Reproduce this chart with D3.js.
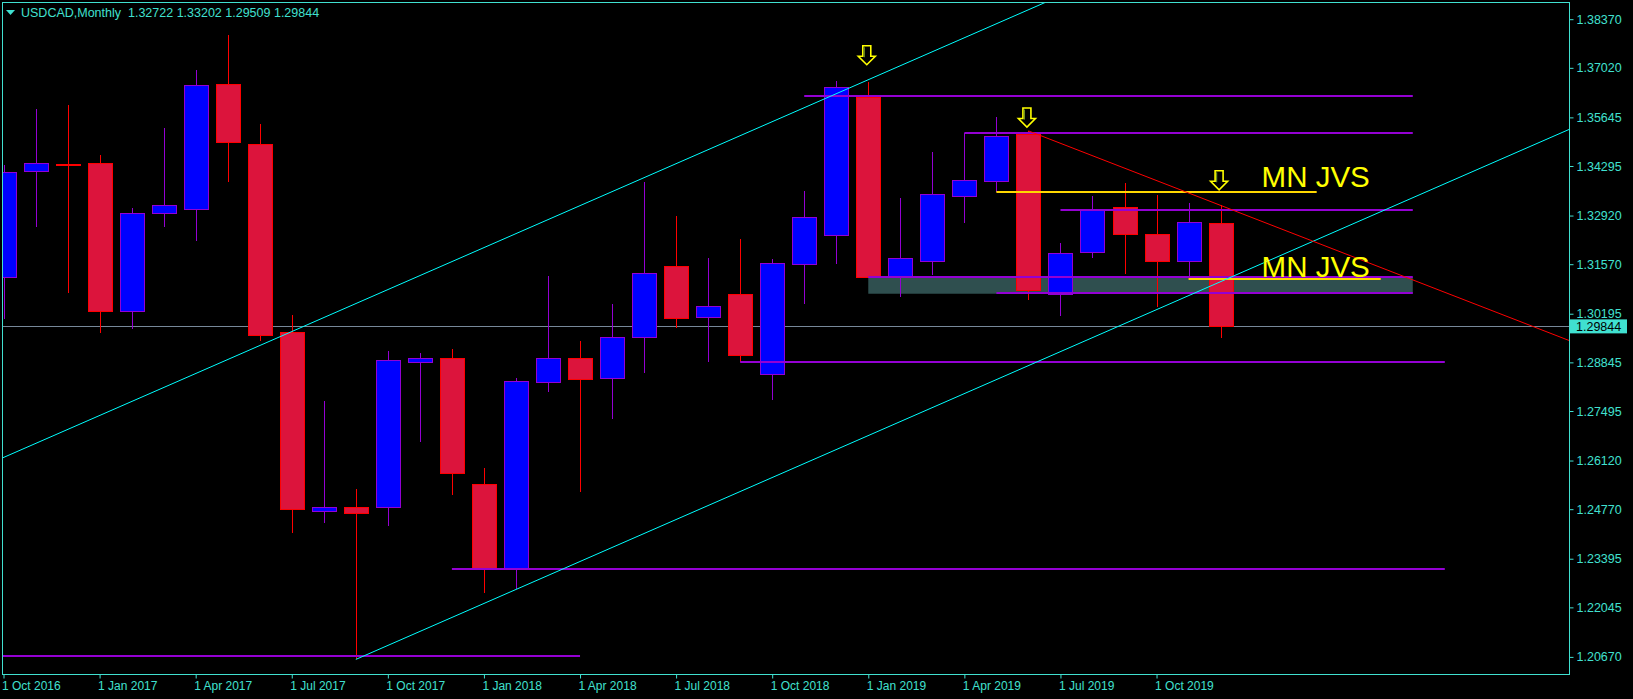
<!DOCTYPE html>
<html>
<head>
<meta charset="utf-8">
<script src="https://cdn.jsdelivr.net/npm/d3@7"></script>
<style>
  html, body { margin: 0; padding: 0; background: #000; }
  svg { display: block; }
</style>
</head>
<body>
<svg id="chart" width="1633" height="699"></svg>
<script>
// ---------- DATA ----------
const months = ["Oct 2016","Nov 2016","Dec 2016","Jan 2017","Feb 2017","Mar 2017","Apr 2017","May 2017","Jun 2017",
  "Jul 2017","Aug 2017","Sep 2017","Oct 2017","Nov 2017","Dec 2017","Jan 2018","Feb 2018","Mar 2018","Apr 2018",
  "May 2018","Jun 2018","Jul 2018","Aug 2018","Sep 2018","Oct 2018","Nov 2018","Dec 2018","Jan 2019","Feb 2019",
  "Mar 2019","Apr 2019","May 2019","Jun 2019","Jul 2019","Aug 2019","Sep 2019","Oct 2019","Nov 2019","Dec 2019"];
const opens  = [1.3121,1.3415,1.3435,1.3437,1.3026,1.3298,1.3309,1.3657,1.3490,
  1.2969,1.2473,1.2482,1.2484,1.2886,1.2896,1.2546,1.2314,1.2829,1.2896,
  1.2840,1.2954,1.3151,1.3010,1.3074,1.2851,1.3157,1.3237,1.3622,1.3121,
  1.3165,1.3345,1.3387,1.3518,1.3073,1.3190,1.3315,1.3240,1.3165,1.32722];
const highs  = [1.3432,1.3588,1.3599,1.3460,1.3313,1.3535,1.3696,1.3793,1.3546,
  1.3016,1.2777,1.2533,1.2916,1.2911,1.2922,1.2591,1.2840,1.3124,1.2944,
  1.3047,1.3385,1.3291,1.3174,1.3227,1.3171,1.3360,1.3666,1.3663,1.3341,
  1.3468,1.3521,1.3565,1.3527,1.3216,1.3346,1.3382,1.3349,1.3327,1.33202];
const lows   = [1.3004,1.3261,1.3078,1.2967,1.2978,1.3261,1.3222,1.3386,1.2945,
  1.2412,1.2440,1.2060,1.2430,1.2664,1.2515,1.2245,1.2256,1.2803,1.2526,
  1.2728,1.2856,1.2981,1.2886,1.2886,1.2781,1.3047,1.3158,1.3118,1.3067,
  1.3127,1.3272,1.3357,1.3058,1.3014,1.3175,1.3131,1.3039,1.3117,1.29509];
const closes = [1.3412,1.3437,1.3433,1.3028,1.3298,1.3321,1.3654,1.3497,1.2961,
  1.2478,1.2482,1.2467,1.2890,1.2896,1.2578,1.2314,1.2832,1.2896,1.2839,
  1.2954,1.3132,1.3009,1.3040,1.2906,1.3160,1.3287,1.3648,1.3122,1.3173,
  1.3351,1.3390,1.3512,1.3086,1.3187,1.3307,1.3240,1.3165,1.3273,1.29844];

const xTickIdx    = [0,3,6,9,12,15,18,21,24,27,30,33,36];
const xTickLabels = ["1 Oct 2016","1 Jan 2017","1 Apr 2017","1 Jul 2017","1 Oct 2017","1 Jan 2018",
  "1 Apr 2018","1 Jul 2018","1 Oct 2018","1 Jan 2019","1 Apr 2019","1 Jul 2019","1 Oct 2019"];
const priceTicks  = [1.38370,1.37020,1.35645,1.34295,1.32920,1.31570,1.30195,1.28845,1.27495,
  1.26120,1.24770,1.23395,1.22045,1.20670];

const headerText = "USDCAD,Monthly  1.32722 1.33202 1.29509 1.29844";
const lastPrice = 1.29844;

// trend lines: [index, price] anchors
const channelUpper = [[9, 1.2970], [27, 1.3669]];
const channelLower = [[11, 1.2060], [38, 1.31085]];
const redTrend     = [[32, 1.3527], [38, 1.33202]];

// horizontal purple levels
const levelPrices = [1.3625, 1.3522, 1.3307, 1.3121, 1.3078, 1.2886, 1.2312, 1.2070];
const levelStarts = [25, 30, 33, 27, 31, 23, 14, -1];
const levelEnds   = [44, 44, 44, 44, 44, 45, 45, 18];

// zone
const zonePrices = [1.3121, 1.3075];
const zoneSpan   = [27, 44];

// yellow levels
const yellowPrices = [1.3357, 1.3117];
const yellowStarts = [31, 37];
const yellowEnds   = [41, 43];

// annotations
const noteTexts  = ["MN JVS", "MN JVS"];
const noteIdx    = [39.28, 39.28];
const notePrices = [1.3372, 1.3122];

const arrowIdx    = [27, 32, 38];
const arrowPrices = [1.3712, 1.3539, 1.3365];

// ---------- CHART ----------
const W = 1633, H = 699;
const plot = {left: 2.5, top: 2.5, right: 1569.5, bottom: 674.5};
const TXT = "#40E0D0";
const PURPLE = "#9400D3";
const FONT = "'Liberation Sans', Arial, sans-serif";

const svg = d3.select("#chart");
svg.append("rect").attr("width", W).attr("height", H).attr("fill", "#000");

const x = d3.scaleLinear().domain([0, 38]).range([3.5, 1220.6]);
const y = d3.scaleLinear().domain([1.20670, 1.38370]).range([656.9, 19.2]);

svg.append("defs").append("clipPath").attr("id", "clip")
  .append("rect").attr("x", 3).attr("y", 3).attr("width", 1566).attr("height", 671);

const g = svg.append("g").attr("clip-path", "url(#clip)");

// zone (background)
g.append("rect")
  .attr("x", x(zoneSpan[0])).attr("width", x(zoneSpan[1]) - x(zoneSpan[0]))
  .attr("y", y(zonePrices[0])).attr("height", y(zonePrices[1]) - y(zonePrices[0]))
  .attr("fill", "#2F4F4F");

// current price line (background)
g.append("line")
  .attr("x1", plot.left).attr("x2", plot.right)
  .attr("y1", Math.round(y(lastPrice)) + 0.5).attr("y2", Math.round(y(lastPrice)) + 0.5)
  .attr("stroke", "#778899").attr("stroke-width", 1);

// candles
const candles = months.map((m, i) => ({i, o: opens[i], h: highs[i], l: lows[i], c: closes[i]}));
const cg = g.append("g");
candles.forEach(d => {
  const bull = d.c >= d.o;
  const cx = Math.round(x(d.i));
  const edge = bull ? PURPLE : "#FF0000";
  const fill = bull ? "#0000FF" : "#DC143C";
  cg.append("line")
    .attr("x1", cx + 0.5).attr("x2", cx + 0.5)
    .attr("y1", Math.round(y(d.h))).attr("y2", Math.round(y(d.l)))
    .attr("stroke", edge).attr("stroke-width", 1);
  const yt = Math.round(y(Math.max(d.o, d.c)));
  const yb = Math.round(y(Math.min(d.o, d.c)));
  const hgt = Math.max(1, yb - yt);
  cg.append("rect")
    .attr("x", cx - 11.5).attr("width", 24)
    .attr("y", yt + 0.5).attr("height", hgt)
    .attr("fill", fill).attr("stroke", edge).attr("stroke-width", 1);
});

// helper for extended lines
function extLine(anchors, i0, i1) {
  const [a, b] = anchors;
  const slope = (b[1] - a[1]) / (b[0] - a[0]);
  const p = i => a[1] + slope * (i - a[0]);
  return [x(i0), y(p(i0)), x(i1), y(p(i1))];
}

// purple levels
levelPrices.forEach((p, k) => {
  const yy = Math.round(y(p));
  g.append("line")
    .attr("x1", x(levelStarts[k])).attr("x2", x(levelEnds[k]))
    .attr("y1", yy).attr("y2", yy)
    .attr("stroke", PURPLE).attr("stroke-width", 2);
});

// yellow levels
yellowPrices.forEach((p, k) => {
  const yy = Math.round(y(p));
  g.append("line")
    .attr("x1", x(yellowStarts[k])).attr("x2", x(yellowEnds[k]))
    .attr("y1", yy).attr("y2", yy)
    .attr("stroke", "#FFD700").attr("stroke-width", 2);
});

// channel lines & red trend
[[channelUpper, -2, 70, "#00FFFF"], [channelLower, 11, 70, "#00FFFF"], [redTrend, 32, 70, "#FF0000"]]
  .forEach(([anc, i0, i1, col]) => {
    const [x1, y1, x2, y2] = extLine(anc, i0, i1);
    g.append("line").attr("x1", x1).attr("y1", y1).attr("x2", x2).attr("y2", y2)
      .attr("stroke", col).attr("stroke-width", 1);
  });

// notes
noteTexts.forEach((t, k) => {
  g.append("text")
    .attr("x", x(noteIdx[k])).attr("y", y(notePrices[k]))
    .attr("fill", "#FFFF00").attr("font-family", FONT).attr("font-size", "29.5px")
    .text(t);
});

// arrows
arrowIdx.forEach((i, k) => {
  const ax = x(i) - 1.5, ay = y(arrowPrices[k]);
  const path = "M-4,-18.5 H4 V-8 H8.5 L0,0.5 L-8.5,-8 H-4 Z";
  g.append("path").attr("d", path)
    .attr("transform", `translate(${ax},${ay})`)
    .attr("fill", "none").attr("stroke", "#FFFF00").attr("stroke-width", 1.6)
    .attr("stroke-linejoin", "miter");
  g.append("path").attr("d", "M-2.5,-17 V-7")
    .attr("transform", `translate(${ax},${ay})`)
    .attr("stroke", "#6B8E23").attr("stroke-width", 1.2);
});

// frame
svg.append("rect")
  .attr("x", plot.left).attr("y", plot.top)
  .attr("width", plot.right - plot.left).attr("height", plot.bottom - plot.top)
  .attr("fill", "none").attr("stroke", TXT).attr("stroke-width", 1);

// right axis
const yAxis = d3.axisRight(y).tickValues(priceTicks).tickFormat(d3.format(".5f"))
  .tickSize(4).tickPadding(3);
const ya = svg.append("g").attr("transform", `translate(${plot.right},0)`).call(yAxis);
ya.select(".domain").remove();
ya.selectAll("line").attr("stroke", TXT);
ya.selectAll("text").attr("fill", TXT).attr("font-family", FONT).attr("font-size", "12.5px");

// bottom axis
const xAxis = d3.axisBottom(x).tickValues(xTickIdx)
  .tickFormat((d, k) => xTickLabels[k]).tickSize(4).tickPadding(3);
const xa = svg.append("g").attr("transform", `translate(0,${plot.bottom})`).call(xAxis);
xa.select(".domain").remove();
xa.selectAll("line").attr("stroke", TXT);
xa.selectAll("text").attr("fill", TXT).attr("font-family", FONT).attr("font-size", "12px")
  .attr("text-anchor", "start").attr("dx", "-2");

// last price box
const ly = y(lastPrice);
svg.append("rect").attr("x", 1570).attr("y", ly - 7).attr("width", 57).attr("height", 14).attr("fill", TXT);
svg.append("text").attr("x", 1576).attr("y", ly).attr("dy", "0.35em")
  .attr("fill", "#000").attr("font-family", FONT).attr("font-size", "12.5px")
  .text(d3.format(".5f")(lastPrice));

// header
svg.append("path").attr("d", "M6,10 L15,10 L10.5,15 Z").attr("fill", TXT);
svg.append("text").attr("x", 21).attr("y", 17).attr("fill", TXT)
  .attr("font-family", FONT).attr("font-size", "12.5px")
  .attr("xml:space", "preserve").style("white-space", "pre")
  .text(headerText);
</script>
</body>
</html>
